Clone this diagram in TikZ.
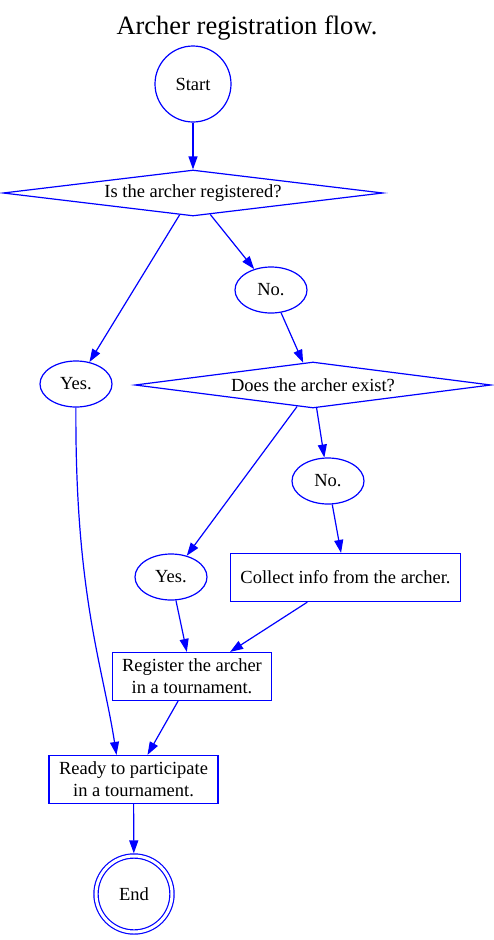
\documentclass[tikz,border=0pt]{standalone}
\usepackage{fontspec}
\setmainfont{Liberation Serif}
\usepackage{tikz}
\usetikzlibrary{arrows.meta}
\usetikzlibrary{shapes}

\begin{document}
\begin{tikzpicture}[x=1pt,y=-1pt,
  ->,>={Triangle[length=13pt,width=9pt]},line width=1.2pt,
  every node/.style={font=\fontsize{18.5}{22}\selectfont,text=black},
  state/.style={draw=blue,circle,minimum size=76pt,inner sep=0pt},
  question/.style={draw=blue,diamond,aspect=8,inner sep=0pt,minimum width=380pt,minimum height=46pt},
  answer/.style={draw=blue,ellipse,inner sep=0pt,minimum width=72pt,minimum height=46pt},
  task/.style={draw=blue,rectangle,align=center,inner xsep=10pt,inner ysep=6pt,minimum height=48pt},
  every edge/.style={draw=blue}]
  \useasboundingbox (0,0) rectangle (494,940);

  \node at (247,28) {\fontsize{26.5}{30}\selectfont Archer registration flow.};

  \node[state]                              (S)  at (193,84)  {Start};
  \node[question]                           (Q1) at (193,193) {Is the archer registered?};
  \node[answer]                             (N1) at (271,290) {No.};
  \node[answer]                             (Y1) at (76,384)  {Yes.};
  \node[question,minimum width=356pt]       (Q2) at (313,385) {Does the archer exist?};
  \node[answer]                             (N2) at (328,481) {No.};
  \node[answer]                             (Y2) at (171,577) {Yes.};
  \node[task]                               (C)  at (345.5,577.5) {Collect info from the archer.};
  \node[task]                               (R)  at (192,676.5) {Register the archer\\in a tournament.};
  \node[task]                               (P)  at (133.5,779.5) {Ready to participate\\in a tournament.};
  \node[state,double,double distance=3pt,outer sep=2.6pt] (E) at (134,894) {End};

  \path (S)  edge (Q1)
        (Q1) edge (N1)
             edge (Y1)
        (N1) edge (Q2)
        (Q2) edge (N2)
             edge (Y2)
        (N2) edge (C)
        (Y2) edge (R)
        (C)  edge (R)
        (R)  edge (P)
        (Y1) edge [to path={.. controls +(-1,210) and +(-14,-90) .. (\tikztotarget)}] ([xshift=-17pt]P.north)
        (P)  edge (E);
\end{tikzpicture}
\end{document}
